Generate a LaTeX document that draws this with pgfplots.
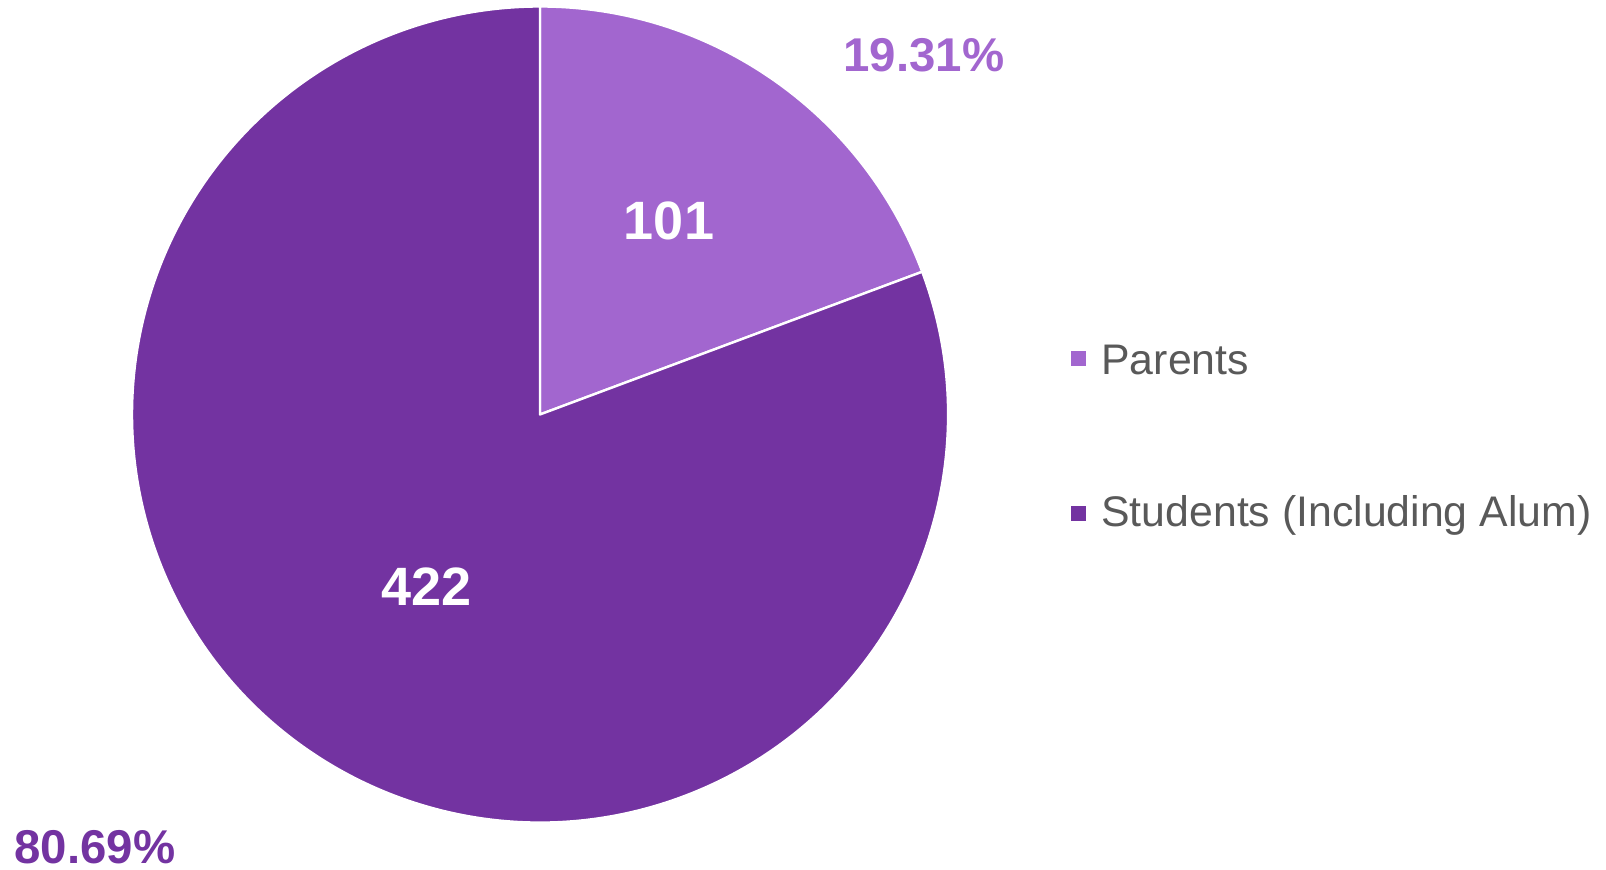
\documentclass[border=0pt]{standalone}
\usepackage{pgfplots}
\pgfplotsset{compat=1.18}
\usepackage{fontspec}
\setmainfont{Liberation Sans}
\definecolor{parents}{RGB}{162,102,207}
\definecolor{students}{RGB}{115,51,161}
\definecolor{legtext}{RGB}{89,89,89}
\begin{document}
\begin{tikzpicture}
\def\vParents{101}
\def\vStudents{422}
\pgfmathsetmacro{\total}{\vParents+\vStudents}
\pgfmathsetmacro{\fP}{\vParents/\total}
\pgfmathsetmacro{\aone}{90-360*\fP}
\begin{axis}[
  x=0.5pt, y=0.5pt,
  xmin=0, xmax=1606, ymin=0, ymax=870,
  hide axis, clip=false,
]
% pie sectors, centre (540,455.5), radius 408 px = 204pt
\fill[parents, draw=white, line width=1.2pt, line join=round]
  (axis cs:540,455.5) -- ++(90:204pt) arc[start angle=90, end angle=\aone, radius=204pt] -- cycle;
\fill[students, draw=white, line width=1.2pt, line join=round]
  (axis cs:540,455.5) -- ++(\aone:204pt) arc[start angle=\aone, end angle=-270, radius=204pt] -- cycle;
% value labels
\node[anchor=base, inner sep=0pt, text=white, font=\fontsize{27}{32}\selectfont\bfseries] at (axis cs:669,630) {\vParents};
\node[anchor=base, inner sep=0pt, text=white, font=\fontsize{27}{32}\selectfont\bfseries] at (axis cs:426.7,264.3) {\vStudents};
% percentage labels
\node[anchor=base, inner sep=0pt, text=parents, font=\fontsize{23.7}{28}\selectfont\bfseries] at (axis cs:924,798) {19.31\%};
\node[anchor=base, inner sep=0pt, text=students, font=\fontsize{23.7}{28}\selectfont\bfseries] at (axis cs:95,6) {80.69\%};
% legend
\fill[parents] (axis cs:1071,503.5) rectangle (axis cs:1086,518.5);
\node[anchor=base west, inner sep=0pt, text=legtext, font=\fontsize{21.4}{26}\selectfont] at (axis cs:1101,495) {Parents};
\fill[students] (axis cs:1071,349) rectangle (axis cs:1086,364);
\node[anchor=base west, inner sep=0pt, text=legtext, font=\fontsize{21.4}{26}\selectfont] at (axis cs:1101,343) {Students (Including Alum)};
\end{axis}
\pgfresetboundingbox
\path (current axis.south west) rectangle (current axis.north east);
\end{tikzpicture}
\end{document}
